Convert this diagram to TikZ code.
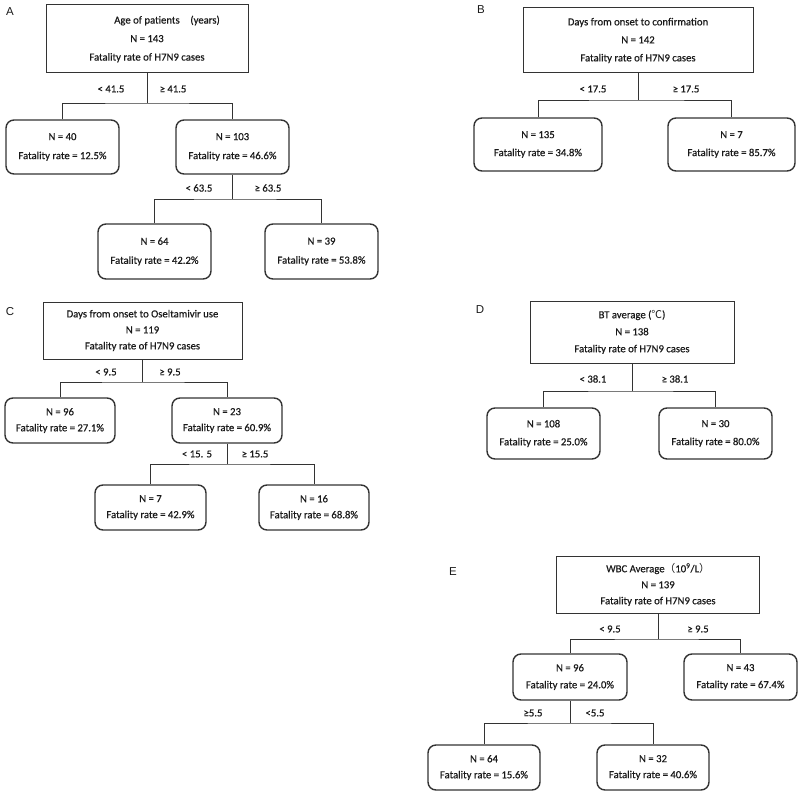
\documentclass[tikz,border=0pt]{standalone}
\usepackage{fontspec}
\setmainfont{Carlito}[FakeBold=0.6]
\newfontfamily\panelfont{Liberation Sans}
\newfontfamily\cjk{Noto Sans CJK SC}
\definecolor{TREEink}{HTML}{1A1A1A}
\definecolor{TREEline}{HTML}{333333}
\usetikzlibrary{positioning}

\begin{document}
\begin{tikzpicture}[x=1pt, y=-1pt,
   every node/.style={text=TREEink, inner sep=0pt},
   txt/.style={font=\fontsize{10.7}{#1}\selectfont},
   rootbox/.style={draw=TREEline, line width=1pt, align=center},
   leafbox/.style={draw=TREEline, line width=1.4pt, rounded corners=8pt, align=center,
      minimum width=113, minimum height=#1},
   cut/.style={font=\fontsize{10.7}{12}\selectfont},
   panel/.style={font=\panelfont\fontsize{11.5}{12}\selectfont},
   edge/.style={draw=TREEline, line width=0.9pt}]
   \useasboundingbox (0,0) rectangle (800,794);

   % A: age of patients
   \node[panel] (labA) at (10,12) {A};
   \node[rootbox, txt=18.5, minimum width=202, minimum height=68] (rootA) at (147,39)
      {\hspace*{40pt}Age of patients\quad(years)\\N = 143\\Fatality rate of H7N9 cases};
   \node[leafbox=54, txt=19] (kidA1) at (62.5,147) {N = 40\\Fatality rate = 12.5\%};
   \node[leafbox=54, txt=19] (kidA2) at (232.5,147) {N = 103\\Fatality rate = 46.6\%};
   \node[leafbox=55, txt=19] (kidA3) at (154.5,251.5) {N = 64\\Fatality rate = 42.2\%};
   \node[leafbox=55, txt=19] (kidA4) at (321.5,251.5) {N = 39\\Fatality rate = 53.8\%};
   \coordinate (jA1) at (147,103);
   \coordinate (jA2) at (232.5,199);
   \draw[edge] (rootA.south) -- (jA1);
   \draw[edge] (kidA1.north) |- (jA1) -| (kidA2.north);
   \draw[edge] (kidA2.south) -- (jA2);
   \draw[edge] (kidA3.north) |- (jA2) -| (kidA4.north);
   \node[cut] (cutA1) at (111,89) {< 41.5};
   \node[cut] (cutA2) at (173,89) {≥ 41.5};
   \node[cut] (cutA3) at (199,188) {< 63.5};
   \node[cut] (cutA4) at (268,188) {≥ 63.5};

   % B: days from onset to confirmation
   \node[panel] (labB) at (481,10) {B};
   \node[rootbox, txt=18, minimum width=230, minimum height=65] (rootB) at (638,40.5)
      {Days from onset to confirmation\\N = 142\\Fatality rate of H7N9 cases};
   \node[leafbox=53, txt=18, minimum width=128] (kidB1) at (538,144.5) {N = 135\\Fatality rate = 34.8\%};
   \node[leafbox=53, txt=18, minimum width=127] (kidB2) at (731.5,144.5) {N = 7\\Fatality rate = 85.7\%};
   \coordinate (jB1) at (638,100);
   \draw[edge] (rootB.south) -- (jB1);
   \draw[edge] (kidB1.north) |- (jB1) -| (kidB2.north);
   \node[cut] (cutB1) at (593,89) {< 17.5};
   \node[cut] (cutB2) at (686,89) {≥ 17.5};

   % C: days from onset to oseltamivir use
   \node[panel] (labC) at (10,312) {C};
   \node[rootbox, txt=16, minimum width=199, minimum height=57] (rootC) at (142.5,330.5)
      {Days from onset to Oseltamivir use\\N = 119\\Fatality rate of H7N9 cases};
   \node[leafbox=45, txt=16, minimum width=110] (kidC1) at (60,420.5) {N = 96\\Fatality rate = 27.1\%};
   \node[leafbox=45, txt=16, minimum width=110] (kidC2) at (227,420.5) {N = 23\\Fatality rate = 60.9\%};
   \node[leafbox=45, txt=16, minimum width=111] (kidC3) at (150.5,507.5) {N = 7\\Fatality rate = 42.9\%};
   \node[leafbox=45, txt=16, minimum width=110] (kidC4) at (314,507.5) {N = 16\\Fatality rate = 68.8\%};
   \coordinate (jC1) at (142.5,382);
   \coordinate (jC2) at (227,464);
   \draw[edge] (rootC.south) -- (jC1);
   \draw[edge] (kidC1.north) |- (jC1) -| (kidC2.north);
   \draw[edge] (kidC2.south) -- (jC2);
   \draw[edge] (kidC3.north) |- (jC2) -| (kidC4.north);
   \node[cut] (cutC1) at (106,372) {< 9.5};
   \node[cut] (cutC2) at (170,372) {≥ 9.5};
   \node[cut] (cutC3) at (197,454) {< 15. 5};
   \node[cut] (cutC4) at (255,454) {≥ 15.5};

   % D: BT average
   \node[panel] (labD) at (480,310) {D};
   \node[rootbox, txt=17, minimum width=204, minimum height=62] (rootD) at (632,332)
      {BT average ({\cjk ℃})\\N = 138\\Fatality rate of H7N9 cases};
   \node[leafbox=51, txt=18] (kidD1) at (543.5,433.5) {N = 108\\Fatality rate = 25.0\%};
   \node[leafbox=51, txt=18] (kidD2) at (715.5,433.5) {N = 30\\Fatality rate = 80.0\%};
   \coordinate (jD1) at (632,391);
   \draw[edge] (rootD.south) -- (jD1);
   \draw[edge] (kidD1.north) |- (jD1) -| (kidD2.north);
   \node[cut] (cutD1) at (593,379) {< 38.1};
   \node[cut] (cutD2) at (675,379) {≥ 38.1};

   % E: WBC average
   \node[panel] (labE) at (453,572) {E};
   \node[rootbox, txt=16, minimum width=203, minimum height=57] (rootE) at (658,584.5)
      {WBC Average{\cjk （}10\textsuperscript{9}/L{\cjk ）}\\N = 139\\Fatality rate of H7N9 cases};
   \node[leafbox=46, txt=17, minimum width=114] (kidE1) at (570,677) {N = 96\\Fatality rate = 24.0\%};
   \node[leafbox=46, txt=17] (kidE2) at (740.5,677) {N = 43\\Fatality rate = 67.4\%};
   \node[leafbox=45, txt=16, minimum width=112] (kidE3) at (484,767.5) {N = 64\\Fatality rate = 15.6\%};
   \node[leafbox=45, txt=16, minimum width=112] (kidE4) at (653,767.5) {N = 32\\Fatality rate = 40.6\%};
   \coordinate (jE1) at (658,639);
   \coordinate (jE2) at (570,723);
   \draw[edge] (rootE.south) -- (jE1);
   \draw[edge] (kidE1.north) |- (jE1) -| (kidE2.north);
   \draw[edge] (kidE1.south) -- (jE2);
   \draw[edge] (kidE3.north) |- (jE2) -| (kidE4.north);
   \node[cut] (cutE1) at (610,629) {< 9.5};
   \node[cut] (cutE2) at (698,629) {≥ 9.5};
   \node[cut] (cutE3) at (533,713) {≥5.5};
   \node[cut] (cutE4) at (595,713) {<5.5};
\end{tikzpicture}
\end{document}
